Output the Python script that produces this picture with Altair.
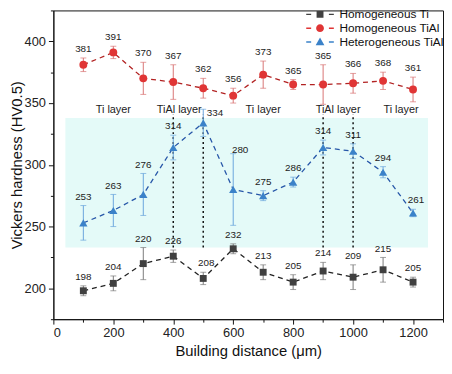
import altair as alt
import pandas as pd

# ---------------- data ----------------
xs = [100, 200, 300, 400, 500, 600, 700, 800, 900, 1000, 1100, 1200]
ti = [198, 204, 220, 226, 208, 232, 213, 205, 214, 209, 215, 205]
ti_err = [4, 6, 13, 5, 5, 4, 6, 6, 7, 10, 10, 4]
tial = [381, 391, 370, 367, 362, 356, 373, 365, 365, 366, 368, 361]
tial_err = [5.5, 5, 13, 14, 8, 6, 11, 4, 16, 8, 7, 10]
het = [253, 263, 276, 314, 334, 280, 275, 286, 314, 311, 294, 261]
het_err = [14, 13, 17, 10, 11, 29, 4, 4, 6, 6, 4.5, 3]

series_names = ["Homogeneous Ti", "Homogeneous TiAl", "Heterogeneous TiAl"]

band_x = [40, 1250]
band_y = [233, 338]
guide_x = [400, 500, 900, 1000]
guide_y = [233, 341]
layer_text = ["Ti layer", "TiAl layer", "Ti layer", "TiAl layer", "Ti layer"]
layer_x = [200, 420, 700, 950, 1160]
layer_y = [344, 344, 344, 344, 344]

FONT = "Liberation Sans"

x_scale = alt.Scale(domain=[0, 1300], nice=False, zero=False)
y_scale = alt.Scale(domain=[175, 425], nice=False, zero=False)

x_axis = alt.Axis(
    title="Building distance (μm)",
    values=list(range(0, 1301, 100)),
    format="d",
    labelExpr="datum.value % 200 === 0 ? datum.label : ''",
    grid=False, tickSize=5, labelPadding=3, titlePadding=4,
    labelFontSize=13, titleFontSize=15, labelFont=FONT, titleFont=FONT,
    labelColor="#222", titleColor="#111", titleFontWeight="normal",
    domainColor="#111", tickColor="#111",
    tickDash={"condition": {"test": "datum.value % 200 === 0", "value": [8, 1]}, "value": [3, 10]},
)
y_axis = alt.Axis(
    title="Vickers hardness (HV0.5)",
    values=list(range(175, 426, 25)),
    format="d",
    labelExpr="datum.value % 50 === 0 ? datum.label : ''",
    grid=False, tickSize=5, labelPadding=3, titlePadding=0,
    labelFontSize=13, titleFontSize=15, labelFont=FONT, titleFont=FONT,
    labelColor="#222", titleColor="#111", titleFontWeight="normal",
    domainColor="#111", tickColor="#111",
    tickDash={"condition": {"test": "datum.value % 50 === 0", "value": [8, 1]}, "value": [3, 10]},
)


def X(field):
    return alt.X(field, type="quantitative", scale=x_scale, axis=x_axis, title="Building distance (μm)")


def Y(field):
    return alt.Y(field, type="quantitative", scale=y_scale, axis=y_axis, title="Vickers hardness (HV0.5)")


layers = []

# background band
band_df = pd.DataFrame({"x0": [band_x[0]], "x1": [band_x[1]], "y0": [band_y[0]], "y1": [band_y[1]]})
layers.append(
    alt.Chart(band_df).mark_rect(color="#e4faf8").encode(
        x=X("x0"), x2="x1", y=Y("y0"), y2="y1"
    )
)

# dotted guide lines
guide_df = pd.DataFrame({"x": guide_x, "y0": guide_y[0], "y1": guide_y[1]})
layers.append(
    alt.Chart(guide_df).mark_rule(color="#111", strokeDash=[2, 3], strokeWidth=1.5).encode(
        x=X("x"), y=Y("y0"), y2="y1"
    )
)

# layer annotations
lt_df = pd.DataFrame({"x": layer_x, "y": layer_y, "t": layer_text})
layers.append(
    alt.Chart(lt_df).mark_text(fontSize=11, font=FONT, color="#222", baseline="middle").encode(
        x=X("x"), y=Y("y"), text="t:N"
    )
)

specs = [
    # values, errors, marker shape, size, marker color, dash color, err color, label nudges
    (ti, ti_err, "square", 49, "#404040", "#222222", "#7a7a7a", {500: (3, -9)}),
    (tial, tial_err, "circle", 64, "#e03535", "#b22222", "#d87474", {}),
    (het, het_err, "triangle-up", 70, "#3b82c9", "#2656a8", "#6aa5dc",
     {500: (12, 4), 600: (7, -4), 1200: (3, -9)}),
]

for vals, errs, shape, size, mcol, dcol, ecol, nudges in specs:
    df = pd.DataFrame({
        "x": xs,
        "y": vals,
        "lo": [v - e for v, e in zip(vals, errs)],
        "hi": [v + e for v, e in zip(vals, errs)],
    })
    base = alt.Chart(df)
    layers.append(base.mark_line(strokeDash=[5, 4], strokeWidth=1.3, color=dcol).encode(x=X("x"), y=Y("y")))
    layers.append(base.mark_rule(color=ecol, strokeWidth=1).encode(x=X("x"), y=Y("lo"), y2="hi"))
    layers.append(base.mark_tick(orient="horizontal", size=6, thickness=1, color=ecol).encode(x=X("x"), y=Y("lo")))
    layers.append(base.mark_tick(orient="horizontal", size=6, thickness=1, color=ecol).encode(x=X("x"), y=Y("hi")))
    layers.append(base.mark_point(filled=True, shape=shape, size=size, color=mcol, opacity=1).encode(x=X("x"), y=Y("y")))
    special = list(nudges.keys())
    layers.append(
        base.transform_filter(f"indexof({special}, datum.x) < 0")
        .mark_text(fontSize=10, font=FONT, color="#222", dy=-9, baseline="middle")
        .encode(x=X("x"), y=Y("hi"), text=alt.Text("y:Q", format="d"))
    )
    for sx, (ddx, ddy) in nudges.items():
        layers.append(
            base.transform_filter(f"datum.x === {sx}")
            .mark_text(fontSize=10, font=FONT, color="#222", dx=ddx, dy=ddy, baseline="middle")
            .encode(x=X("x"), y=Y("hi"), text=alt.Text("y:Q", format="d"))
        )

# legend-only layer: points placed below the visible domain and clipped away,
# used only to generate the legend with dashed "- marker -" symbols
leg_paths = [
    "M-1,-0.16H0.07V0.16H-1Z M1.25,-0.75H2.75V0.75H1.25Z M3.93,-0.16H5V0.16H3.93Z",
    "M-1,-0.16H0.07V0.16H-1Z M2.85,0A0.85,0.85 0 1,1 1.15,0A0.85,0.85 0 1,1 2.85,0Z M3.93,-0.16H5V0.16H3.93Z",
    "M-1,-0.16H0.07V0.16H-1Z M2,-0.95L2.95,0.72L1.05,0.72Z M3.93,-0.16H5V0.16H3.93Z",
]
leg_colors = ["#404040", "#e03535", "#3b82c9"]
leg_df = pd.DataFrame({"s": series_names, "x": xs[:3], "y": [100, 100, 100]})
leg = alt.Legend(
    title=None, orient="none", legendX=255, legendY=-2, padding=0,
    labelFontSize=12, labelFont=FONT, labelColor="#111", labelLimit=200,
    symbolSize=87, symbolStrokeWidth=0, symbolOpacity=1, labelOffset=23, rowPadding=2,
)
layers.append(
    alt.Chart(leg_df).mark_point(filled=True, size=87, opacity=1, clip=True).encode(
        x=X("x"), y=Y("y"),
        color=alt.Color("s:N", scale=alt.Scale(domain=series_names, range=leg_colors), legend=leg, sort=series_names),
        shape=alt.Shape("s:N", scale=alt.Scale(domain=series_names, range=leg_paths), legend=leg, sort=series_names),
    )
)

chart = alt.layer(*layers).properties(
    width=395, height=313,
    autosize=alt.AutoSizeParams(type="none"),
    padding={"left": 46, "top": 0, "right": 1, "bottom": 45},
).configure_view(stroke="#111", strokeWidth=1)

chart.save("out.html", embed_options={"renderer": "svg", "actions": False})
